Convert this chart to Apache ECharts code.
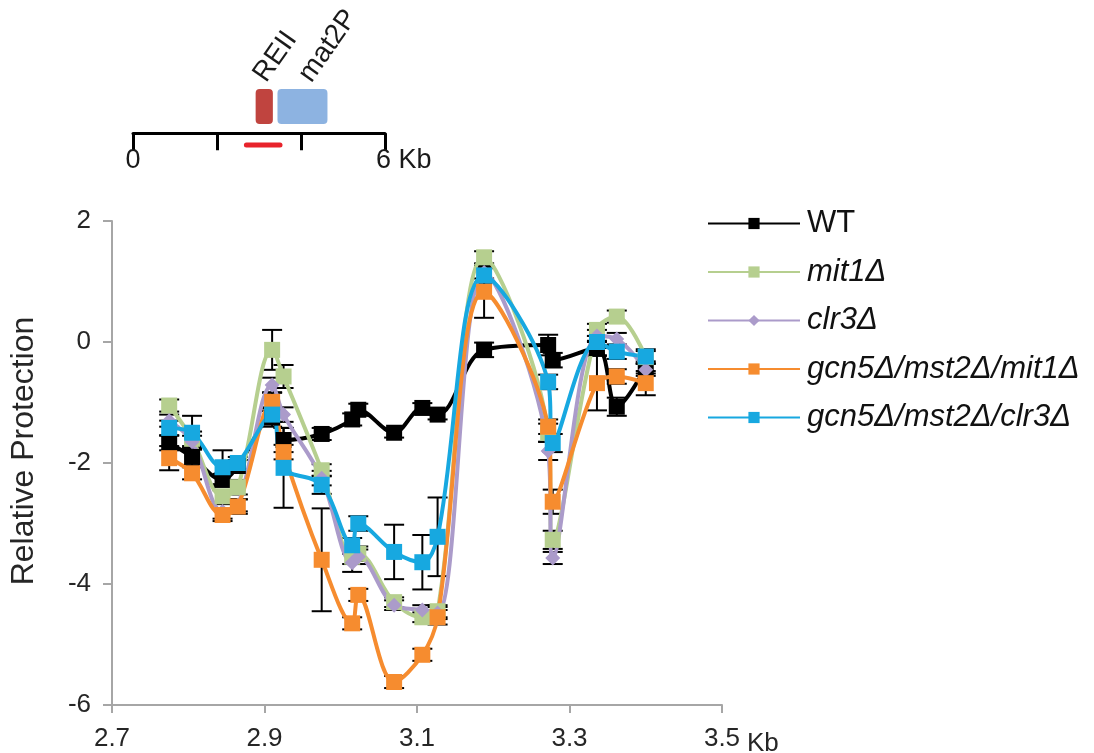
<!DOCTYPE html>
<html><head><meta charset="utf-8">
<script src="https://cdn.jsdelivr.net/npm/echarts@6/dist/echarts.min.js"></script>
<style>html,body{margin:0;padding:0;background:#fff}#c{width:1094px;height:753px}</style>
</head><body><div id="c"></div>
<script>
// ---- data ----
const positionsKb = [2.775, 2.805, 2.845, 2.865, 2.91, 2.925, 2.975, 3.015, 3.023, 3.07, 3.107, 3.127, 3.188, 3.272, 3.278, 3.336, 3.362, 3.4];
const seriesNames = ['WT', 'mit1Δ', 'clr3Δ', 'gcn5Δ/mst2Δ/mit1Δ', 'gcn5Δ/mst2Δ/clr3Δ'];
const wtVals    = [-1.67, -1.9, -2.28, -2.05, -1.25, -1.62, -1.52, -1.28, -1.12, -1.5, -1.09, -1.2, -0.13, -0.05, -0.3, -0.1, -1.07, -0.42];
const mit1Vals  = [-1.05, -1.6, -2.55, -2.4, -0.13, -0.57, -2.12, -3.55, -3.5, -4.3, -4.55, -4.45, 1.4, -1.5, -3.27, 0.2, 0.42, -0.25];
const clr3Vals  = [-1.3, -1.65, -2.8, -2.7, -0.71, -1.2, -2.25, -3.65, -3.55, -4.35, -4.43, -4.48, 1.15, -1.8, -3.57, 0.1, 0.05, -0.46];
const gmMit1Vals = [-1.92, -2.17, -2.86, -2.72, -0.99, -1.82, -3.6, -4.65, -4.18, -5.62, -5.17, -4.55, 0.83, -1.4, -2.64, -0.68, -0.57, -0.68];
const gmClr3Vals = [-1.42, -1.5, -2.07, -2.0, -1.2, -2.08, -2.36, -3.36, -3.0, -3.47, -3.64, -3.22, 1.1, -0.66, -1.67, 0.0, -0.16, -0.24];
const wtErr     = [0.12, 0.15, 0.1, 0.1, 0.15, 0.2, 0.1, 0.1, 0.1, 0.08, 0.08, 0.08, 0.12, 0.17, 0.12, 0.12, 0.15, 0.1];
const mit1Err   = [0.1, 0.12, 0.1, 0.12, 0.33, 0.19, 0.1, 0.12, 0.12, 0.08, 0.08, 0.1, 0.1, 0.15, 0.15, 0.1, 0.1, 0.1];
const clr3Err   = [0.1, 0.1, 0.12, 0.1, 0.12, 0.12, 0.12, 0.15, 0.12, 0.08, 0.08, 0.1, 0.1, 0.15, 0.1, 0.1, 0.1, 0.1];
const gmMit1Err = [0.2, 0.1, 0.1, 0.12, 0.15, 0.12, 0.85, 0.1, 0.1, 0.1, 0.1, 0.12, 0.43, 0.12, 0.2, 0.45, 0.12, 0.2];
const gmClr3Err = [0.12, 0.28, 0.28, 0.1, 0.12, 0.66, 0.15, 0.12, 0.12, 0.45, 0.45, 0.65, 0.12, 0.12, 0.15, 0.1, 0.12, 0.12];
const xTicks = [2.7, 2.9, 3.1, 3.3, 3.5];
const yTicks = [-6, -4, -2, 0, 2];
// inset map (Kb)
const featureNames = ['REII', 'mat2P'];
const featureStart = [2.92, 3.44];
const featureEnd   = [3.33, 4.63];
const probedRegion = [2.7, 3.5];
const insetTickValues = [0, 6];
const insetTickLabels = ['0', '6 Kb'];

// ---- styling ----
const FONT = 'Liberation Sans, Arial, sans-serif';
const colors = ['#000000', '#b6cf8f', '#ab9bca', '#f68c2f', '#17a8e0'];
const symbols = ['rect', 'rect', 'diamond', 'rect', 'rect'];
const symbolSizes = [16, 16, 15, 16, 16];
const allVals = [wtVals, mit1Vals, clr3Vals, gmMit1Vals, gmClr3Vals];
const allErr = [wtErr, mit1Err, clr3Err, gmMit1Err, gmClr3Err];
const axisGray = '#a6a6a6';

function errSeries(vals, errs) {
  return {
    type: 'custom', xAxisIndex: 0, yAxisIndex: 0, silent: true,
    data: positionsKb.map((x, i) => [x, vals[i], errs[i]]),
    encode: { x: 0, y: 1 },
    renderItem: (params, api) => {
      const x = api.value(0), y = api.value(1), e = api.value(2);
      const t = api.coord([x, y + e]), b = api.coord([x, y - e]);
      const w = 10;
      const st = { stroke: '#000', lineWidth: 2 };
      return { type: 'group', children: [
        { type: 'line', shape: { x1: t[0], y1: t[1], x2: b[0], y2: b[1] }, style: st },
        { type: 'line', shape: { x1: t[0] - w, y1: t[1], x2: t[0] + w, y2: t[1] }, style: st },
        { type: 'line', shape: { x1: b[0] - w, y1: b[1], x2: b[0] + w, y2: b[1] }, style: st }
      ] };
    }
  };
}
function lineSeries(i) {
  return {
    type: 'line', name: seriesNames[i], xAxisIndex: 0, yAxisIndex: 0,
    data: positionsKb.map((x, k) => [x, allVals[i][k]]),
    smooth: 0.35, symbol: symbols[i], symbolSize: symbolSizes[i],
    lineStyle: { color: colors[i], width: 4 },
    itemStyle: { color: colors[i] }
  };
}
const series = [];
for (let i = 0; i < 5; i++) { series.push(errSeries(allVals[i], allErr[i])); series.push(lineSeries(i)); }

// inset series
series.push({
  type: 'custom', xAxisIndex: 1, yAxisIndex: 1, silent: true,
  data: featureStart.map((s, i) => [s, featureEnd[i], i]),
  renderItem: (params, api) => {
    const i = api.value(2);
    const p0 = api.coord([api.value(0), 0.175]);
    const p1 = api.coord([api.value(1), 0.83]);
    const fill = i === 0 ? '#c0443f' : '#8db3e1';
    const cx = (p0[0] + p1[0]) / 2;
    const dx = i === 0 ? 7 : 14;
    return { type: 'group', children: [
      { type: 'rect', shape: { x: p0[0], y: p1[1], width: p1[0] - p0[0], height: p0[1] - p1[1], r: 4 }, style: { fill } },
      { type: 'text', x: cx + dx, y: p1[1] - 2, rotation: 55 * Math.PI / 180,
        style: { text: featureNames[i], fontSize: 28, fontFamily: FONT, fill: '#1a1a1a', align: 'left', verticalAlign: 'bottom' } }
    ] };
  }
});
series.push({
  type: 'custom', xAxisIndex: 1, yAxisIndex: 1, silent: true,
  data: [[probedRegion[0], probedRegion[1]]],
  renderItem: (params, api) => {
    const a = api.coord([api.value(0), -0.22]), b = api.coord([api.value(1), -0.22]);
    return { type: 'line', shape: { x1: a[0], y1: a[1], x2: b[0], y2: b[1] }, style: { stroke: '#e8232b', lineWidth: 5, lineCap: 'round' } };
  }
});
series.push({
  type: 'custom', xAxisIndex: 1, yAxisIndex: 1, silent: true,
  data: insetTickValues.map((v, i) => [v, i]),
  renderItem: (params, api) => {
    const i = api.value(1);
    const p = api.coord([api.value(0), 0]);
    return { type: 'text', x: i === 0 ? p[0] : p[0] - 9, y: p[1] + 27,
      style: { text: insetTickLabels[i], fontSize: 27, fontFamily: FONT, fill: '#1a1a1a', align: i === 0 ? 'center' : 'left', verticalAlign: 'middle' } };
  }
});

const chart = echarts.init(document.getElementById('c'), null, { renderer: 'canvas' });
chart.setOption({
  animation: false,
  backgroundColor: '#ffffff',
  grid: [
    { left: 112, right: 372, top: 221, bottom: 48, outerBoundsMode: 'none', containLabel: false },
    { left: 133, width: 252, top: 80, height: 80, outerBoundsMode: 'none', containLabel: false }
  ],
  legend: {
    data: seriesNames, orient: 'vertical', left: 702, top: 203,
    itemWidth: 92, itemHeight: 14, itemGap: 17.5,
    formatter: n => n === 'WT' ? '{n|' + n + '}' : '{i|' + n + '}',
    textStyle: { fontSize: 31, color: '#111', fontFamily: FONT, lineHeight: 30,
      rich: { n: { fontSize: 31, fontFamily: FONT, padding: [0, 0, 0, 2] }, i: { fontSize: 31, fontStyle: 'italic', fontFamily: FONT, padding: [0, 0, 0, 2] } } }
  },
  xAxis: [
    { type: 'value', gridIndex: 0, min: xTicks[0], max: xTicks[xTicks.length - 1], interval: 0.2,
      name: 'Kb', nameLocation: 'end', nameGap: 18, nameMoveOverlap: false,
      nameTextStyle: { fontSize: 26, color: '#262626', fontFamily: FONT, align: 'left', verticalAlign: 'top', padding: [26, 0, 0, 7] },
      axisLine: { onZero: false, lineStyle: { color: axisGray, width: 2 } },
      axisTick: { show: true, length: 8, lineStyle: { color: axisGray, width: 2 } },
      splitLine: { show: false },
      axisLabel: { fontSize: 26, color: '#262626', fontFamily: FONT, margin: 21, formatter: v => v.toFixed(1) } },
    { type: 'value', gridIndex: 1, min: 0, max: 6, interval: 2,
      axisLine: { onZero: true, lineStyle: { color: '#000', width: 3 } },
      axisTick: { show: true, length: 17, lineStyle: { color: '#000', width: 3 } },
      splitLine: { show: false }, axisLabel: { show: false } }
  ],
  yAxis: [
    { type: 'value', gridIndex: 0, min: yTicks[0], max: yTicks[yTicks.length - 1], interval: 2,
      name: 'Relative Protection', nameLocation: 'middle', nameGap: 72, nameMoveOverlap: false,
      nameTextStyle: { fontSize: 32, color: '#262626', fontFamily: FONT, padding: [0, 0, 0, 24] },
      axisLine: { show: true, lineStyle: { color: axisGray, width: 2 } },
      axisTick: { show: true, length: 9, lineStyle: { color: axisGray, width: 2 } },
      splitLine: { show: false },
      axisLabel: { fontSize: 26, color: '#262626', fontFamily: FONT, margin: 21 } },
    { type: 'value', gridIndex: 1, min: -0.5, max: 1, show: false, splitLine: { show: false } }
  ],
  series
});
</script></body></html>
